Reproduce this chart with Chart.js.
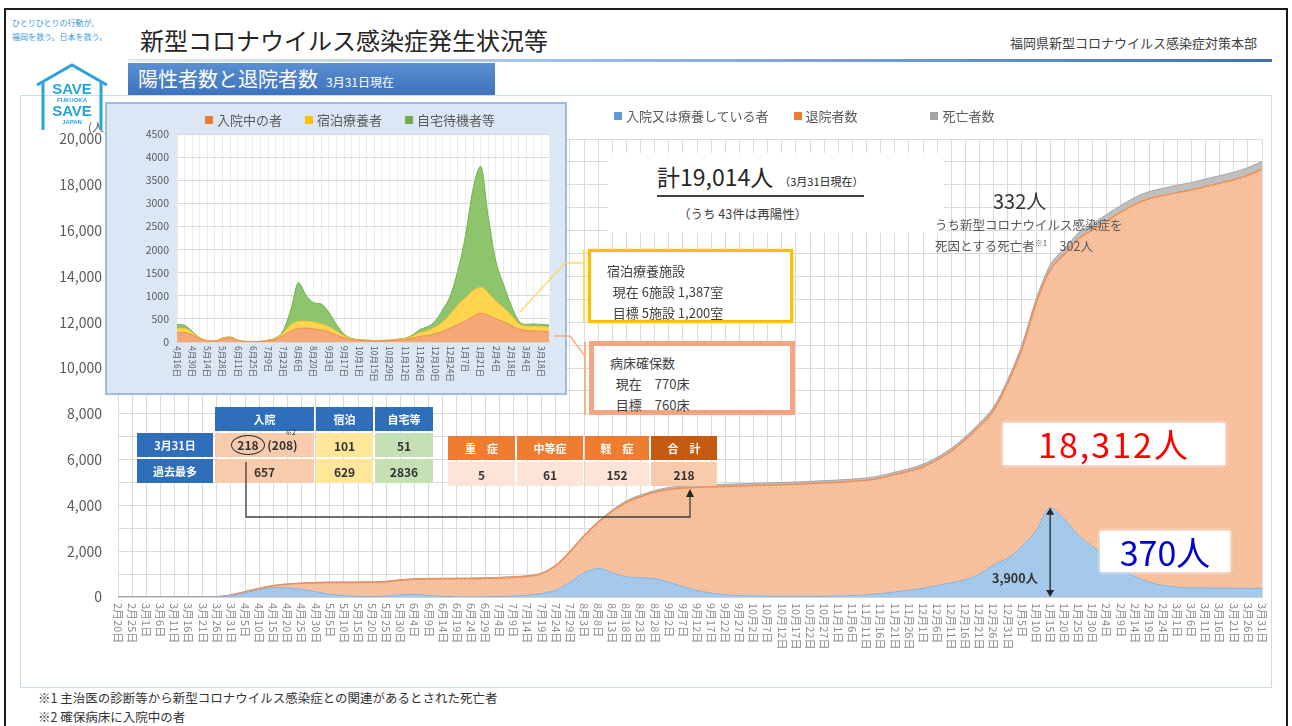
<!DOCTYPE html>
<html lang="ja">
<head>
<meta charset="utf-8">
<title>陽性者数と退院者数</title>
<script src="https://cdn.jsdelivr.net/npm/chart.js@4.4.1/dist/chart.umd.min.js"></script>
<style>
  body { margin:0; width:1292px; height:726px; position:relative; overflow:hidden; background:#fff;
         font-family:"Noto Sans CJK JP","Noto Sans",sans-serif; color:#404040; }
  .a { position:absolute; white-space:nowrap; }
  #frame { left:4px; top:8px; width:1284px; height:740px; border:2px solid #1b1b1b; box-sizing:border-box; }
  #panel { left:20px; top:95px; width:1252px; height:593px; border:1px solid #c9dcf0; box-sizing:border-box; }
  #hline { left:128px; top:59px; width:1144px; height:3px; background:linear-gradient(to right,#e4edf8,#9dbce3 40%,#3f6fb6); }
  #banner { left:128px; top:63px; width:367px; height:32px; background:linear-gradient(to bottom,#5b8fd2,#3e72bb); color:#fff;
            font-size:20px; line-height:32px; padding-left:10px; box-sizing:border-box; }
  #banner small { font-size:12px; margin-left:8px; }
  .leg i { display:inline-block; width:8px; height:8px; margin-right:4px; vertical-align:1px; }
  #inset { left:105px; top:102px; width:462px; height:293px; background:#dce7f5; border:2px solid #9dbce3; box-sizing:border-box; z-index:3; }
  .box { background:#fff; box-sizing:border-box; font-size:13px; color:#404040; line-height:21px; padding:8px 0 0 16px; z-index:3; }
  table { position:absolute; border-collapse:separate; border-spacing:2px; z-index:3; font-size:12px; text-align:center; }
  td { padding:0; height:24px; font-weight:bold; color:#333; }
  td.h { background:#2f6eba; color:#fff; font-size:11px; }
  td.o { background:#ed7d31; color:#fff; font-size:11px; }
  td.od { background:#c55a11; color:#fff; font-size:11px; }
</style>
</head>
<body>
<div id="frame" class="a"></div>
<div id="panel" class="a"></div>

<div class="a" style="left:12px;top:16px;font-size:8px;line-height:14px;color:#3a9ad8;">ひとりひとりの行動が、<br>福岡を救う。日本を救う。</div>
<div class="a" style="left:140px;top:22px;font-size:24px;color:#262626;">新型コロナウイルス感染症発生状況等</div>
<div class="a" style="left:1010px;top:33px;font-size:13px;color:#404040;">福岡県新型コロナウイルス感染症対策本部</div>
<div id="hline" class="a"></div>
<div id="banner" class="a">陽性者数と退院者数<small>3月31日現在</small></div>

<svg class="a" style="left:33px;top:62px;z-index:4" width="78" height="68">
  <polyline points="4,23 39,3 74,23" fill="none" stroke="#29a3dd" stroke-width="3"/>
  <line x1="10" y1="20" x2="10" y2="68" stroke="#29a3dd" stroke-width="3"/>
  <line x1="68" y1="20" x2="68" y2="68" stroke="#29a3dd" stroke-width="3"/>
  <text x="39" y="32" text-anchor="middle" font-size="15" font-weight="bold" fill="#29a3dd" font-family="Liberation Sans">SAVE</text>
  <text x="39" y="40" text-anchor="middle" font-size="6" font-weight="bold" fill="#29a3dd" font-family="Liberation Sans">FUKUOKA</text>
  <text x="39" y="54" text-anchor="middle" font-size="15" font-weight="bold" fill="#29a3dd" font-family="Liberation Sans">SAVE</text>
  <text x="39" y="62" text-anchor="middle" font-size="6" font-weight="bold" fill="#29a3dd" font-family="Liberation Sans">JAPAN</text>
</svg>

<canvas id="mainChart" class="a" width="1252" height="593" style="left:20px;top:95px;z-index:1"></canvas>

<div class="a" style="left:88px;top:118px;font-size:12px;color:#595959;z-index:2">(人)</div>
<div class="a leg" style="left:614px;top:106px;font-size:13px;color:#595959;z-index:2">
  <span><i style="background:#5b9bd5"></i>入院又は療養している者</span>
  <span style="margin-left:22px"><i style="background:#ed7d31"></i>退院者数</span>
  <span style="margin-left:70px"><i style="background:#a5a5a5"></i>死亡者数</span>
</div>

<div class="a" style="left:608px;top:153px;width:336px;height:80px;background:#fff;z-index:2"></div>
<div class="a" style="left:657px;top:162px;font-size:23px;color:#262626;border-bottom:2px solid #404040;line-height:28px;z-index:3">計19,014人<span style="font-size:11px;margin-left:6px">（3月31日現在）</span></div>
<div class="a" style="left:678px;top:204px;font-size:12.5px;color:#404040;z-index:3">（うち 43件は再陽性）</div>

<div class="a" style="left:993px;top:186px;font-size:20px;color:#333;z-index:3">332人</div>
<div class="a" style="left:935px;top:216px;font-size:12.5px;line-height:18px;color:#595959;z-index:3">うち新型コロナウイルス感染症を<br>死因とする死亡者<sup style="font-size:8px">※1</sup>　302人</div>

<div id="inset" class="a">
  <canvas id="insetChart" width="458" height="289"></canvas>
</div>
<div class="a leg" style="left:205px;top:110px;font-size:13px;color:#595959;z-index:4">
  <span><i style="background:#ed7d31"></i>入院中の者</span>
  <span style="margin-left:20px"><i style="background:#ffc000"></i>宿泊療養者</span>
  <span style="margin-left:20px"><i style="background:#70ad47"></i>自宅待機者等</span>
</div>

<svg class="a" style="left:500px;top:240px;z-index:4" width="100" height="190">
  <polyline points="20,72 65,23 84,23" fill="none" stroke="#ffd966" stroke-width="1.5"/>
  <line x1="84" y1="10" x2="84" y2="82" stroke="#ffd966" stroke-width="2"/>
  <polyline points="54,96 70,96 84,115" fill="none" stroke="#f4b183" stroke-width="1.5"/>
  <line x1="85" y1="102" x2="85" y2="175" stroke="#f4b183" stroke-width="2"/>
</svg>
<div class="a box" style="left:588px;top:249px;width:205px;height:74px;border:3px solid #ffc000;box-shadow:0 0 3px #ffe08a;">宿泊療養施設<br>&nbsp;&nbsp;現在 6施設 1,387室<br>&nbsp;&nbsp;目標 5施設 1,200室</div>
<div class="a box" style="left:589px;top:341px;width:206px;height:74px;border:5px solid #f4a582;padding-top:6px;">病床確保数<br>&nbsp;&nbsp;現在　770床<br>&nbsp;&nbsp;目標　760床</div>

<table style="left:135px;top:405px;">
  <tr><td style="width:76px;background:transparent"></td><td class="h" style="width:99px">入院</td><td class="h" style="width:57px">宿泊</td><td class="h" style="width:58px">自宅等</td></tr>
  <tr><td class="h">3月31日</td><td style="background:#f8cbad;position:relative"><span style="display:inline-block;border:1.5px solid #333;border-radius:50%;padding:0 5px;line-height:18px">218</span> (208)<span style="position:absolute;left:70px;top:-6px;font-size:7px;font-weight:normal">※2</span></td><td style="background:#ffe699">101</td><td style="background:#c5e0b4">51</td></tr>
  <tr><td class="h">過去最多</td><td style="background:#f8cbad">657</td><td style="background:#ffe699">629</td><td style="background:#c5e0b4">2836</td></tr>
</table>
<table style="left:446px;top:434px;">
  <tr><td class="o" style="width:67px">重　症</td><td class="o" style="width:66px">中等症</td><td class="o" style="width:64px">軽　症</td><td class="od" style="width:66px">合　計</td></tr>
  <tr><td style="background:#fce4d6">5</td><td style="background:#fce4d6">61</td><td style="background:#fce4d6">152</td><td style="background:#f8cbad">218</td></tr>
</table>
<svg class="a" style="left:240px;top:460px;z-index:3" width="460" height="62">
  <polyline points="6,2 6,57 450,57 450,36" fill="none" stroke="#404040" stroke-width="1.3"/>
  <polygon points="446,37 454,37 450,29" fill="#262626"/>
</svg>

<div class="a" style="left:1003px;top:423px;width:222px;height:42px;background:#fff;box-shadow:0 0 4px #fff;color:#ff0000;font-size:34px;line-height:42px;text-align:center;letter-spacing:2px;z-index:3">18,312人</div>
<div class="a" style="left:1100px;top:531px;width:130px;height:41px;background:#fff;box-shadow:0 0 4px #fff;color:#0000cc;font-size:34px;line-height:41px;text-align:center;z-index:3">370人</div>
<div class="a" style="left:992px;top:568px;font-size:12.5px;font-weight:bold;color:#333;z-index:3">3,900人</div>

<div class="a" style="left:38px;top:688px;font-size:12.5px;line-height:19px;color:#333;">※1 主治医の診断等から新型コロナウイルス感染症との関連があるとされた死亡者<br>※2 確保病床に入院中の者</div>

<script>
// 本体グラフ：5日ごとの値
var mainDates = ['2/20','2/25','3/1','3/6','3/11','3/16','3/21','3/26','3/31','4/5',
  '4/10','4/15','4/20','4/25','4/30','5/5','5/10','5/15','5/20','5/25',
  '5/30','6/4','6/9','6/14','6/19','6/24','6/29','7/4','7/9','7/14',
  '7/19','7/24','7/29','8/3','8/8','8/13','8/18','8/23','8/28','9/2',
  '9/7','9/12','9/17','9/22','9/27','10/2','10/7','10/12','10/17','10/22',
  '10/27','11/1','11/6','11/11','11/16','11/21','11/26','12/1','12/6','12/11',
  '12/16','12/21','12/26','12/31','1/5','1/10','1/15','1/20','1/25','1/30',
  '2/4','2/9','2/14','2/19','2/24','3/1','3/6','3/11','3/16','3/21',
  '3/26','3/31'];
var activeCases = [0,1,2,3,3,4,5,10,55,180,
  320,410,400,330,230,120,60,30,20,40,
  100,110,60,25,10,5,10,20,40,70,
  150,300,650,1050,1250,1050,880,840,800,650,
  450,280,170,100,60,50,40,30,30,35,
  40,50,60,90,150,220,300,380,500,620,
  750,1000,1400,1700,2200,2900,3900,3400,2700,2200,
  1750,1250,900,650,500,430,400,390,390,380,
  375,370];
var discharged = [0,0,1,2,3,3,3,5,35,49,
  57,85,160,265,392,510,573,608,623,628,
  635,662,727,767,787,797,802,812,822,832,
  870,1070,1320,1615,2005,2695,3255,3535,3770,4045,
  4310,4510,4640,4730,4790,4815,4845,4875,4895,4918,
  4943,4962,4990,5010,5045,5123,5192,5310,5485,5760,
  6125,6465,6755,7640,8625,9905,10385,11565,12945,13830,
  14665,15555,16245,16738,17032,17228,17375,17533,17681,17840,
  18044,18312];
var deaths = [0,0,0,0,0,0,0,0,0,1,
  3,5,10,15,18,20,22,22,22,22,
  25,28,28,28,28,28,28,28,28,28,
  30,30,30,35,45,55,65,75,80,85,
  90,90,90,90,90,95,95,95,95,97,
  97,98,100,100,105,107,108,110,115,120,
  125,135,145,160,175,195,215,235,255,270,
  285,295,305,312,318,322,325,327,329,330,
  331,332];

// 小グラフ：週ごとの療養者内訳
var insetDates = ['4/16','4/23','4/30','5/7','5/14','5/21','5/28','6/4','6/11','6/18',
  '6/25','7/2','7/9','7/16','7/23','7/30','8/6','8/13','8/20','8/27',
  '9/3','9/10','9/17','9/24','10/1','10/8','10/15','10/22','10/29','11/5',
  '11/12','11/19','11/26','12/3','12/10','12/17','12/24','12/31','1/7','1/14',
  '1/21','1/28','2/4','2/11','2/18','2/25','3/4','3/11','3/18','3/25'];
var hospitalized = [200,210,150,70,25,15,70,85,35,10,
  5,10,25,55,140,240,290,300,280,260,
  220,150,90,50,35,30,25,28,30,40,
  50,80,120,140,180,230,300,380,450,550,
  620,580,500,440,360,280,250,240,230,220];
var hotelCare = [90,80,50,15,5,3,15,15,5,2,
  0,3,10,20,60,130,160,150,150,130,
  110,80,40,20,10,8,5,5,8,15,
  20,40,80,100,140,200,300,420,500,560,
  560,480,380,300,220,120,90,100,100,100];
var homeCare = [90,70,30,5,0,0,5,10,0,0,
  0,2,5,15,50,330,830,560,420,430,
  310,150,40,10,5,2,0,2,2,5,
  10,30,70,90,130,270,400,750,1350,2200,
  2620,1640,870,510,220,60,40,50,50,50];

function toJa(s) { return s.replace('/', '月') + '日'; }

function hatch(base, dot) {
    var c = document.createElement('canvas');
    c.width = 4; c.height = 4;
    var x = c.getContext('2d');
    x.fillStyle = base; x.fillRect(0, 0, 4, 4);
    x.fillStyle = dot; x.fillRect(0, 0, 1, 1); x.fillRect(2, 2, 1, 1);
    return x.createPattern(c, 'repeat');
}

// 縦書き（時計回り90度）の日付ラベル
var vertLabels = {
    id: 'vertLabels',
    afterDraw: function (chart, args, opts) {
        var s = chart.scales.x, ctx = chart.ctx;
        ctx.save();
        ctx.font = opts.font;
        ctx.fillStyle = opts.color;
        ctx.textAlign = 'left';
        ctx.textBaseline = 'middle';
        chart.data.labels.forEach(function (lab, i) {
            if (i % opts.every) return;
            ctx.save();
            ctx.translate(s.getPixelForValue(i), s.top + opts.pad);
            ctx.rotate(Math.PI / 2);
            ctx.fillText(lab, 0, 0);
            ctx.restore();
        });
        ctx.restore();
    }
};

// ピーク時の矢印
var peakArrow = {
    id: 'peakArrow',
    afterDatasetsDraw: function (chart) {
        var max = Math.max.apply(null, activeCases);
        var i = activeCases.indexOf(max);
        var x = chart.scales.x.getPixelForValue(i);
        var y1 = chart.scales.y.getPixelForValue(max);
        var y0 = chart.scales.y.getPixelForValue(0);
        var ctx = chart.ctx;
        ctx.save();
        ctx.strokeStyle = '#262626'; ctx.fillStyle = '#262626'; ctx.lineWidth = 1.3;
        ctx.beginPath(); ctx.moveTo(x, y1 + 4); ctx.lineTo(x, y0 - 4); ctx.stroke();
        ctx.beginPath(); ctx.moveTo(x, y1); ctx.lineTo(x - 4, y1 + 7); ctx.lineTo(x + 4, y1 + 7); ctx.fill();
        ctx.beginPath(); ctx.moveTo(x, y0); ctx.lineTo(x - 4, y0 - 7); ctx.lineTo(x + 4, y0 - 7); ctx.fill();
        ctx.restore();
    }
};

var plotWhite = {
    id: 'plotWhite',
    beforeDraw: function (chart) {
        var a = chart.chartArea;
        chart.ctx.save();
        chart.ctx.fillStyle = '#fff';
        chart.ctx.fillRect(a.left, a.top, a.right - a.left, a.bottom - a.top);
        chart.ctx.restore();
    }
};

Chart.defaults.font.family = '"Noto Sans CJK JP", "Noto Sans", sans-serif';

var ctx = document.getElementById('mainChart').getContext('2d');
var grafico = new Chart(ctx, {
    type: 'line',
    data: {
        labels: mainDates.map(toJa),
        datasets: [
            {
                label: '入院又は療養している者',
                data: activeCases,
                fill: 'origin',
                backgroundColor: hatch('#a8cbec', '#8dbbe6'),
                borderColor: '#86b2df',
                borderWidth: 1
            },
            {
                label: '退院者数',
                data: discharged,
                fill: '-1',
                backgroundColor: hatch('#f8c3a0', '#f1a77c'),
                borderColor: '#ef8f55',
                borderWidth: 1.5
            },
            {
                label: '死亡者数',
                data: deaths,
                fill: '-1',
                backgroundColor: '#bfbfbf',
                borderColor: '#a6a6a6',
                borderWidth: 1
            }
        ]
    },
    options: {
        responsive: false,
        animation: false,
        devicePixelRatio: 1,
        layout: { padding: { top: 44, right: 10, left: 0, bottom: 0 } },
        elements: { point: { radius: 0 }, line: { tension: 0.35, cubicInterpolationMode: 'monotone' } },
        plugins: {
            legend: { display: false },
            tooltip: { enabled: false },
            vertLabels: { font: '11px "Noto Sans CJK JP"', color: '#8c8c8c', every: 1, pad: 6 }
        },
        scales: {
            x: {
                offset: false,
                grid: { color: '#dadada', lineWidth: 1, drawTicks: false },
                border: { color: '#d0d0d0' },
                ticks: { display: false, autoSkip: false },
                afterFit: function (s) { s.height = 91; }
            },
            y: {
                stacked: true,
                min: 0,
                max: 20000,
                grid: { color: '#dadada', lineWidth: 1, drawTicks: false },
                border: { display: false },
                ticks: {
                    stepSize: 500,
                    padding: 16,
                    color: '#595959',
                    font: { size: 14 },
                    callback: function (v) { return v % 2000 === 0 ? v.toLocaleString('en-US') : ''; }
                },
                afterFit: function (s) { s.width = 98; }
            }
        }
    },
    plugins: [vertLabels, peakArrow]
});

var ctx2 = document.getElementById('insetChart').getContext('2d');
var grafico2 = new Chart(ctx2, {
    type: 'line',
    data: {
        labels: insetDates.map(toJa),
        datasets: [
            { label: '入院中の者', data: hospitalized, fill: 'origin', backgroundColor: '#f4a777', borderColor: '#ee8a4c', borderWidth: 1 },
            { label: '宿泊療養者', data: hotelCare, fill: '-1', backgroundColor: '#ffd44f', borderColor: '#f7c230', borderWidth: 1 },
            { label: '自宅待機者等', data: homeCare, fill: '-1', backgroundColor: '#8ec46c', borderColor: '#74b04d', borderWidth: 1 }
        ]
    },
    options: {
        responsive: false,
        animation: false,
        devicePixelRatio: 1,
        layout: { padding: { top: 30, right: 16, left: 0, bottom: 0 } },
        elements: { point: { radius: 0 }, line: { tension: 0.3, cubicInterpolationMode: 'monotone' } },
        plugins: {
            legend: { display: false },
            tooltip: { enabled: false },
            vertLabels: { font: '8.5px "Noto Sans CJK JP"', color: '#595959', every: 2, pad: 4 }
        },
        scales: {
            x: {
                offset: false,
                grid: { color: '#ececec', drawTicks: false },
                border: { color: '#d9d9d9' },
                ticks: { display: false, autoSkip: false },
                afterFit: function (s) { s.height = 51; }
            },
            y: {
                stacked: true,
                min: 0,
                max: 4500,
                grid: { color: '#d9d9d9', drawTicks: false },
                border: { display: false },
                ticks: {
                    stepSize: 500,
                    padding: 8,
                    color: '#595959',
                    font: { size: 10.5 },
                    callback: function (v) { return String(v); }
                },
                afterFit: function (s) { s.width = 70; }
            }
        }
    },
    plugins: [plotWhite, vertLabels]
});
</script>
</body>
</html>
